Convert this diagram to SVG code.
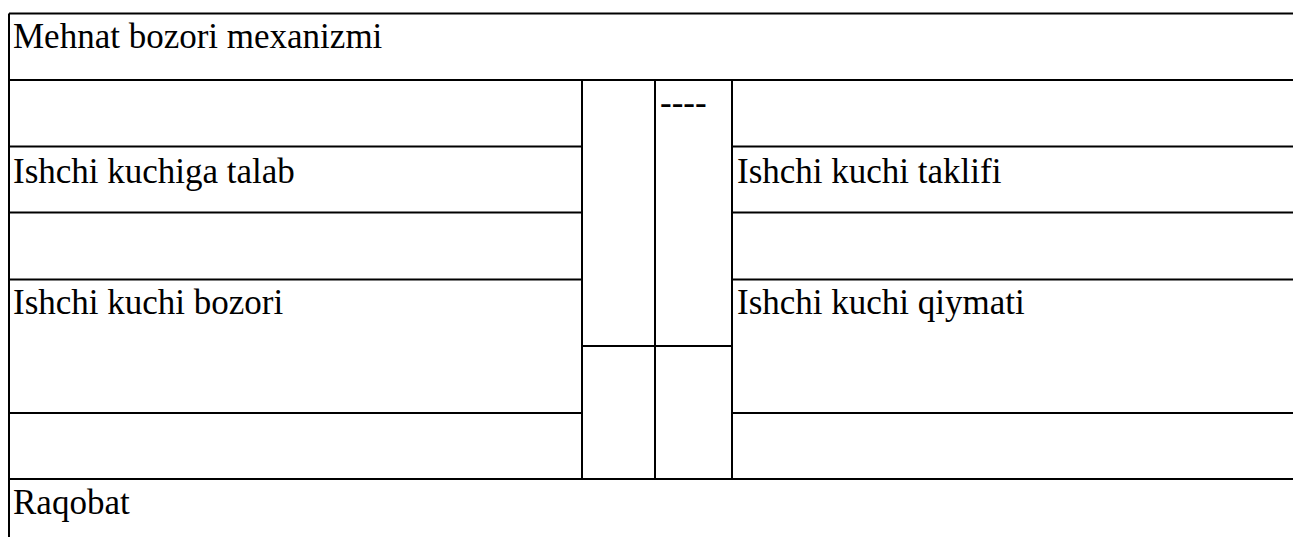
<svg xmlns="http://www.w3.org/2000/svg" width="1293" height="537" viewBox="0 0 1293 537">
<style>
.ln{stroke:#000;stroke-width:2;fill:none}
.t{font-family:"Liberation Serif","Times New Roman",serif;font-size:35px;fill:#000}
</style>
<rect width="1293" height="537" fill="#fff"/>
<g id="grid">
<path class="ln" d="M9,13.5H1293 M9,13.5V537 M9,80H1293 M9,146.5H582 M732,146.5H1293 M9,212.5H582 M732,212.5H1293 M9,279.5H582 M732,279.5H1293 M582,346H732 M9,413H582 M732,413H1293 M9,479H1293 M582,80V479 M655,80V479 M732,80V479"/>
</g>
<g id="title"><text class="t" x="13" y="48">Mehnat bozori mexanizmi</text></g>
<g id="dash"><text class="t" x="660" y="114">----</text></g>
<g id="talab"><text class="t" x="13" y="183">Ishchi kuchiga talab</text></g>
<g id="taklif"><text class="t" x="737" y="183">Ishchi kuchi taklifi</text></g>
<g id="bozor"><text class="t" x="13" y="314">Ishchi kuchi bozori</text></g>
<g id="qiymat"><text class="t" x="737" y="314">Ishchi kuchi qiymati</text></g>
<g id="raqobat"><text class="t" x="13" y="514">Raqobat</text></g>
</svg>
